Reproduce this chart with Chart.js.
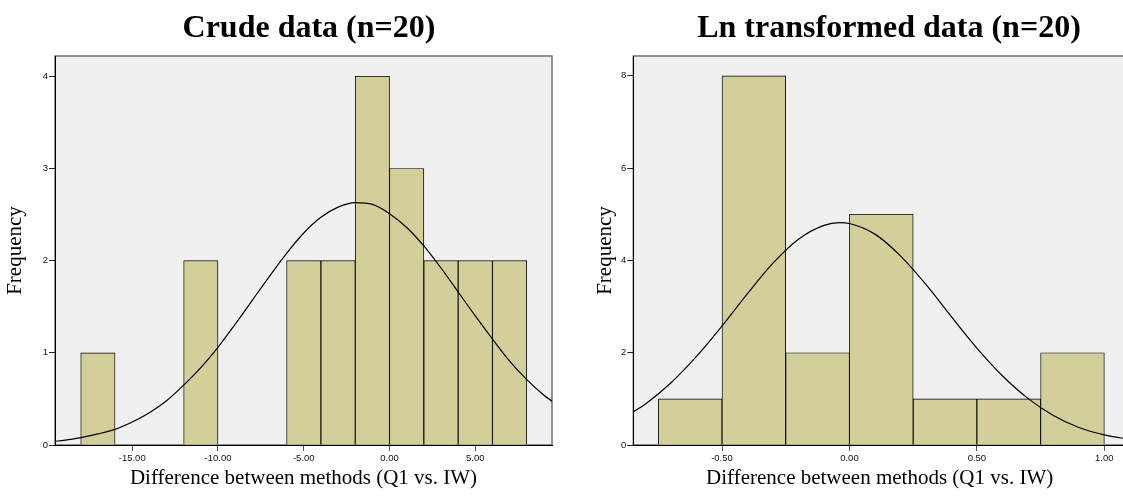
<!DOCTYPE html>
<html>
<head>
<meta charset="utf-8">
<script src="https://cdn.jsdelivr.net/npm/chart.js@4.4.1/dist/chart.umd.min.js"></script>
<style>
  html, body { margin: 0; padding: 0; background: #fff; overflow: hidden; width: 1123px; height: 497px; }
  canvas { position: absolute; top: 0; }
  #crudeChart { left: 0; }
  #lnChart { left: 561px; }
</style>
</head>
<body>
<canvas id="crudeChart" width="561" height="497"></canvas>
<canvas id="lnChart" width="570" height="497"></canvas>
<script>
// Crude data: histogram bins (start of each bin, width 2) and counts
const crudeBinWidth = 2;
const crudeBins = [-18, -16, -14, -12, -10, -8, -6, -4, -2, 0, 2, 4, 6];
const crudeCounts = [1, 0, 0, 2, 0, 0, 2, 2, 4, 3, 2, 2, 2];
// normal curve
const crudeCurveX = [-19.5, -19, -18, -17, -16, -15, -14, -13, -12, -11, -10, -9, -8, -7, -6, -5, -4, -3, -2, -1, 0, 1, 2, 3, 4, 5, 6, 7, 8, 9, 9.5];
const crudeCurveY = [0.04, 0.05, 0.08, 0.12, 0.17, 0.25, 0.35, 0.48, 0.65, 0.84, 1.06, 1.31, 1.57, 1.83, 2.08, 2.30, 2.47, 2.58, 2.63, 2.61, 2.51, 2.36, 2.16, 1.92, 1.66, 1.40, 1.15, 0.91, 0.71, 0.54, 0.47];
const crudeXTicks = [-15, -10, -5, 0, 5];
const crudeYTicks = [0, 1, 2, 3, 4];

// Ln transformed data: bins of width 0.25
const lnBinWidth = 0.25;
const lnBins = [-0.75, -0.5, -0.25, 0, 0.25, 0.5, 0.75];
const lnCounts = [1, 8, 2, 5, 1, 1, 2];
const lnCurveX = [-0.85, -0.8, -0.7, -0.6, -0.5, -0.4, -0.3, -0.2, -0.1, -0.04, 0, 0.1, 0.2, 0.3, 0.4, 0.5, 0.6, 0.7, 0.8, 0.9, 1.0, 1.1];
const lnCurveY = [0.71, 0.89, 1.35, 1.92, 2.58, 3.28, 3.94, 4.46, 4.76, 4.82, 4.80, 4.57, 4.10, 3.48, 2.78, 2.10, 1.50, 1.01, 0.64, 0.38, 0.22, 0.12];
const lnXTicks = [-0.5, 0, 0.5, 1.0];
const lnYTicks = [0, 2, 4, 6, 8];

const xTitle = 'Difference between methods (Q1 vs. IW)';
const yTitle = 'Frequency';

// grey plot background, frame and panel title
const panelPlugin = {
    id: 'panel',
    beforeDraw(chart, args, opts) {
        const ctx = chart.ctx;
        const a = chart.chartArea;
        ctx.save();
        ctx.fillStyle = '#f0f0f0';
        ctx.fillRect(a.left, a.top, a.right - a.left, a.bottom - a.top);
        ctx.strokeStyle = '#707070';
        ctx.lineWidth = 1.5;
        ctx.strokeRect(a.left, a.top, a.right - a.left, a.bottom - a.top);
        ctx.fillStyle = '#000';
        ctx.font = 'bold 32px "Liberation Serif"';
        ctx.textAlign = 'center';
        ctx.textBaseline = 'alphabetic';
        ctx.fillText(opts.title, opts.titleX, 37);
        ctx.restore();
    }
};

function histogram(id, o) {
    const ctx = document.getElementById(id).getContext('2d');
    const tickFont = { family: 'Liberation Sans', size: 9.5 };
    const titleFont = { family: 'Liberation Serif', size: 21 };
    return new Chart(ctx, {
        type: 'bar',
        data: {
            datasets: [{
                type: 'line',
                data: o.curveX.map((x, i) => ({ x: x, y: o.curveY[i] })),
                borderColor: '#000',
                borderWidth: 1.2,
                pointRadius: 0,
                cubicInterpolationMode: 'monotone',
                order: 0
            }, {
                data: o.bins.map((b, i) => ({ x: b + o.binWidth / 2, y: o.counts[i] || null })),
                backgroundColor: '#d3cf9a',
                borderColor: '#000',
                borderWidth: 0.9,
                barPercentage: 1,
                categoryPercentage: 1,
                order: 1
            }]
        },
        options: {
            responsive: false,
            animation: false,
            devicePixelRatio: 1,
            layout: { padding: { top: 56, right: o.padRight, left: 0, bottom: 0 } },
            plugins: {
                legend: { display: false },
                tooltip: { enabled: false },
                panel: { title: o.title, titleX: o.titleX }
            },
            scales: {
                x: {
                    type: 'linear',
                    min: o.xMin,
                    max: o.xMax,
                    offset: false,
                    afterBuildTicks: s => { s.ticks = o.xTicks.map(v => ({ value: v })); },
                    afterFit: s => { s.height = 52; },
                    grid: { drawOnChartArea: false, offset: false, tickLength: 6, color: '#555' },
                    border: { color: '#000' },
                    ticks: {
                        font: tickFont, color: '#111', padding: 2, maxRotation: 0, autoSkip: false,
                        callback: v => v.toFixed(2)
                    },
                    title: { display: true, text: xTitle, font: titleFont, color: '#000', padding: { top: 0, bottom: 6 } }
                },
                y: {
                    min: 0,
                    max: o.yMax,
                    afterBuildTicks: s => { s.ticks = o.yTicks.map(v => ({ value: v })); },
                    afterFit: s => { s.width = o.yWidth; },
                    grid: { drawOnChartArea: false, tickLength: 6, color: '#222' },
                    border: { color: '#000' },
                    ticks: { font: tickFont, color: '#111', padding: 1 },
                    title: { display: true, text: yTitle, font: titleFont, color: '#000', padding: { top: o.yTitlePad, bottom: 0 } }
                }
            }
        },
        plugins: [panelPlugin]
    });
}

histogram('crudeChart', {
    title: 'Crude data (n=20)', titleX: 309,
    bins: crudeBins, counts: crudeCounts, binWidth: crudeBinWidth,
    curveX: crudeCurveX, curveY: crudeCurveY,
    xTicks: crudeXTicks, yTicks: crudeYTicks,
    xMin: -19.5, xMax: 9.47, yMax: 4.22,
    yWidth: 55, yTitlePad: 3, padRight: 9
});

histogram('lnChart', {
    title: 'Ln transformed data (n=20)', titleX: 328,
    bins: lnBins, counts: lnCounts, binWidth: lnBinWidth,
    curveX: lnCurveX, curveY: lnCurveY,
    xTicks: lnXTicks, yTicks: lnYTicks,
    xMin: -0.848, xMax: 1.085, yMax: 8.43,
    yWidth: 72.3, yTitlePad: 32, padRight: 5
});
</script>
</body>
</html>
